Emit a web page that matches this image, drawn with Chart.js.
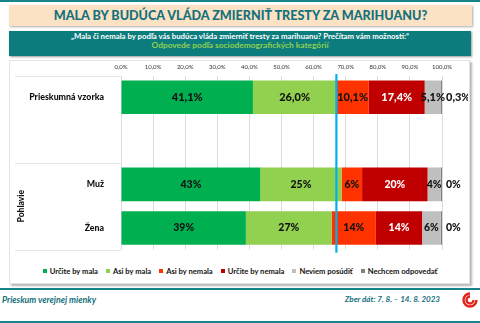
<!DOCTYPE html>
<html lang="sk">
<head>
<meta charset="utf-8">
<script src="https://cdn.jsdelivr.net/npm/chart.js@4/dist/chart.umd.min.js"></script>
<style>
  body { margin: 0; width: 480px; height: 323px; background: #fff; position: relative; overflow: hidden; font-family: Lato, "Noto Sans", sans-serif; }
  .line { position: absolute; left: 0; width: 480px; height: 2px; background: #17848a; }
  #title { position: absolute; left: 9px; top: 5px; width: 463px; height: 21px; background: #fbe2c4; box-shadow: 1px 1px 2px #aaa;
    color: #14707b; font-weight: 900; font-size: 12.6px; text-align: center; line-height: 22px; }
  #sub { position: absolute; left: 9px; top: 31px; width: 462px; height: 25px; background: #0c7c7d; box-shadow: 1px 1px 2px #999;
    text-align: center; font-weight: bold; font-size: 7.8px; line-height: 8.5px; padding-top: 1px; box-sizing: border-box; }
  #sub .q { color: #fff; }
  #sub .a { color: #92d050; font-size: 8.4px; }
  #panel { position: absolute; left: 9px; top: 60px; width: 461px; height: 224px; border: 1px solid #e4e4e4; box-sizing: border-box;
    box-shadow: 2px 2px 2px #b5b5b5; background: #fff; }
  #chart { position: absolute; left: 10px; top: 60px; }
  #legend { position: absolute; left: 0; top: 266px; width: 480px; display: flex; justify-content: center; font-size: 7.6px; font-weight: bold; color: #111; }
  #legend span { margin: 0 4px; white-space: nowrap; }
  #legend i { display: inline-block; width: 4px; height: 4px; margin-right: 3px; vertical-align: 1px; }
  .foot { position: absolute; top: 294px; font-size: 8px; font-style: italic; font-weight: bold; color: #14707b; }
</style>
</head>
<body>
<div class="line" style="top:0"></div>
<div id="title">MALA BY BUDÚCA VLÁDA ZMIERNIŤ TRESTY ZA MARIHUANU?</div>
<div id="sub"><div class="q">„Mala či nemala by podľa vás budúca vláda zmierniť tresty za marihuanu? Prečítam vám možnosti:“</div>
<div class="a">Odpovede podľa sociodemografických kategórií</div></div>
<div id="panel"></div>
<canvas id="chart" width="458" height="204"></canvas>
<div id="legend"></div>
<div class="line" style="top:288px"></div>
<div class="foot" style="left:2px;font-size:8.8px">Prieskum verejnej mienky</div>
<div class="foot" style="right:40px">Zber dát: 7. 8. – 14. 8. 2023</div>
<svg style="position:absolute;left:461px;top:291px" width="18" height="17" viewBox="0 0 18 17">
  <path d="M9 2.5 A6.5 6.5 0 1 0 15.5 9 M9 5.5 A3.5 3.5 0 1 0 12.5 9" fill="none" stroke="#e2231a" stroke-width="2.4"/>
</svg>
<div class="line" style="top:321px"></div>

<script>
// odpovede v %, poradie: Prieskumná vzorka, (medzera), Muž, Žena
const categories = ["Prieskumná vzorka", "", "Muž", "Žena"];
const series = ["Určite by mala", "Asi by mala", "Asi by nemala", "Určite by nemala", "Neviem posúdiť", "Nechcem odpovedať"];
const colors = ["#00b050", "#92d050", "#ff3300", "#c00000", "#bfbfbf", "#7f7f7f"];
const sample = [41.1, 26.0, 10.1, 17.4, 5.1, 0.3];
const muz = [43.4, 25.3, 6.4, 20.4, 4.1, 0.4];
const zena = [38.9, 26.7, 13.8, 14.4, 5.8, 0.4];
const xTicks = [0, 10, 20, 30, 40, 50, 60, 70, 80, 90, 100];

const FONT = "Lato, 'Noto Sans', sans-serif";

// legenda
const legend = document.getElementById("legend");
series.forEach((name, i) => {
  legend.innerHTML += '<span><i style="background:' + colors[i] + '"></i>' + name + "</span>";
});

const fmt = (v, row) => row === 0 ? v.toFixed(1).replace(".", ",") + "%" : v.toFixed(0) + "%";

const labelsPlugin = {
  id: "barLabels",
  afterDatasetsDraw(chart) {
    const ctx = chart.ctx;
    const area = chart.chartArea;
    const xs = chart.scales.x, ys = chart.scales.y;
    ctx.save();
    ctx.textBaseline = "middle";
    chart.data.datasets.forEach((ds, di) => {
      const meta = chart.getDatasetMeta(di);
      meta.data.forEach((bar, row) => {
        const v = ds.data[row];
        if (v == null) return;
        ctx.font = "900 " + (row === 0 ? 11 : 10.5) + "px " + FONT;
        ctx.fillStyle = di === 3 ? "#fff" : "#111";
        if (di === series.length - 1) {
          ctx.textAlign = "left";
          ctx.fillText(fmt(v, row), bar.x + 4, bar.y);
        } else {
          ctx.textAlign = "center";
          ctx.fillText(fmt(v, row), (bar.x + bar.base) / 2, bar.y);
        }
      });
    });

    // modrá čiara: súčet kladných odpovedí celej vzorky
    const bx = xs.getPixelForValue(sample[0] + sample[1]);
    ctx.strokeStyle = "#00b0f0";
    ctx.lineWidth = 2.2;
    ctx.beginPath();
    ctx.moveTo(bx, area.top - 1.5);
    ctx.lineTo(bx, area.bottom + 3);
    ctx.stroke();

    // mriežka tabuľky vľavo
    const step = (ys.getPixelForValue(1) - ys.getPixelForValue(0));
    ctx.strokeStyle = "#e6e6e6";
    ctx.lineWidth = 1;
    [area.top, ys.getPixelForValue(2) - step / 2, area.bottom].forEach(y => {
      ctx.beginPath();
      ctx.moveTo(5, Math.round(y) + 0.5);
      ctx.lineTo(area.left, Math.round(y) + 0.5);
      ctx.stroke();
    });

    // popis skupiny
    const py = (ys.getPixelForValue(2) + ys.getPixelForValue(3)) / 2;
    ctx.translate(11, py);
    ctx.rotate(-Math.PI / 2);
    ctx.font = "900 8.5px " + FONT;
    ctx.fillStyle = "#111";
    ctx.textAlign = "center";
    ctx.fillText("Pohlavie", 0, 0);
    ctx.restore();
  }
};

new Chart(document.getElementById("chart"), {
  type: "bar",
  data: {
    labels: categories,
    datasets: series.map((name, i) => ({
      label: name,
      data: [sample[i], null, muz[i], zena[i]],
      backgroundColor: colors[i],
      categoryPercentage: 1,
      barPercentage: 0.77,
    })),
  },
  options: {
    indexAxis: "y",
    responsive: false,
    animation: false,
    devicePixelRatio: 1,
    layout: { padding: { left: 0, right: 26, top: 0, bottom: 3 } },
    plugins: { legend: { display: false }, tooltip: { enabled: false } },
    scales: {
      x: {
        position: "top",
        stacked: true,
        min: 0,
        max: 100,
        afterBuildTicks: (scale) => { scale.ticks = xTicks.map(v => ({ value: v })); },
        afterFit: (scale) => { scale.height = 15.5; },
        ticks: {
          padding: 5,
          color: "#333",
          font: { family: FONT, size: 6 },
          callback: (v) => v.toFixed(1).replace(".", ",") + "%",
        },
        grid: { color: "#dcdcdc", drawTicks: false },
        border: { display: false },
      },
      y: {
        stacked: true,
        afterFit: (scale) => { scale.width = 111; },
        ticks: { padding: 9, color: "#111", font: { family: FONT, size: 8.8, weight: "900" } },
        grid: { display: false },
        border: { display: false },
      },
    },
  },
  plugins: [labelsPlugin],
});
</script>
</body>
</html>
